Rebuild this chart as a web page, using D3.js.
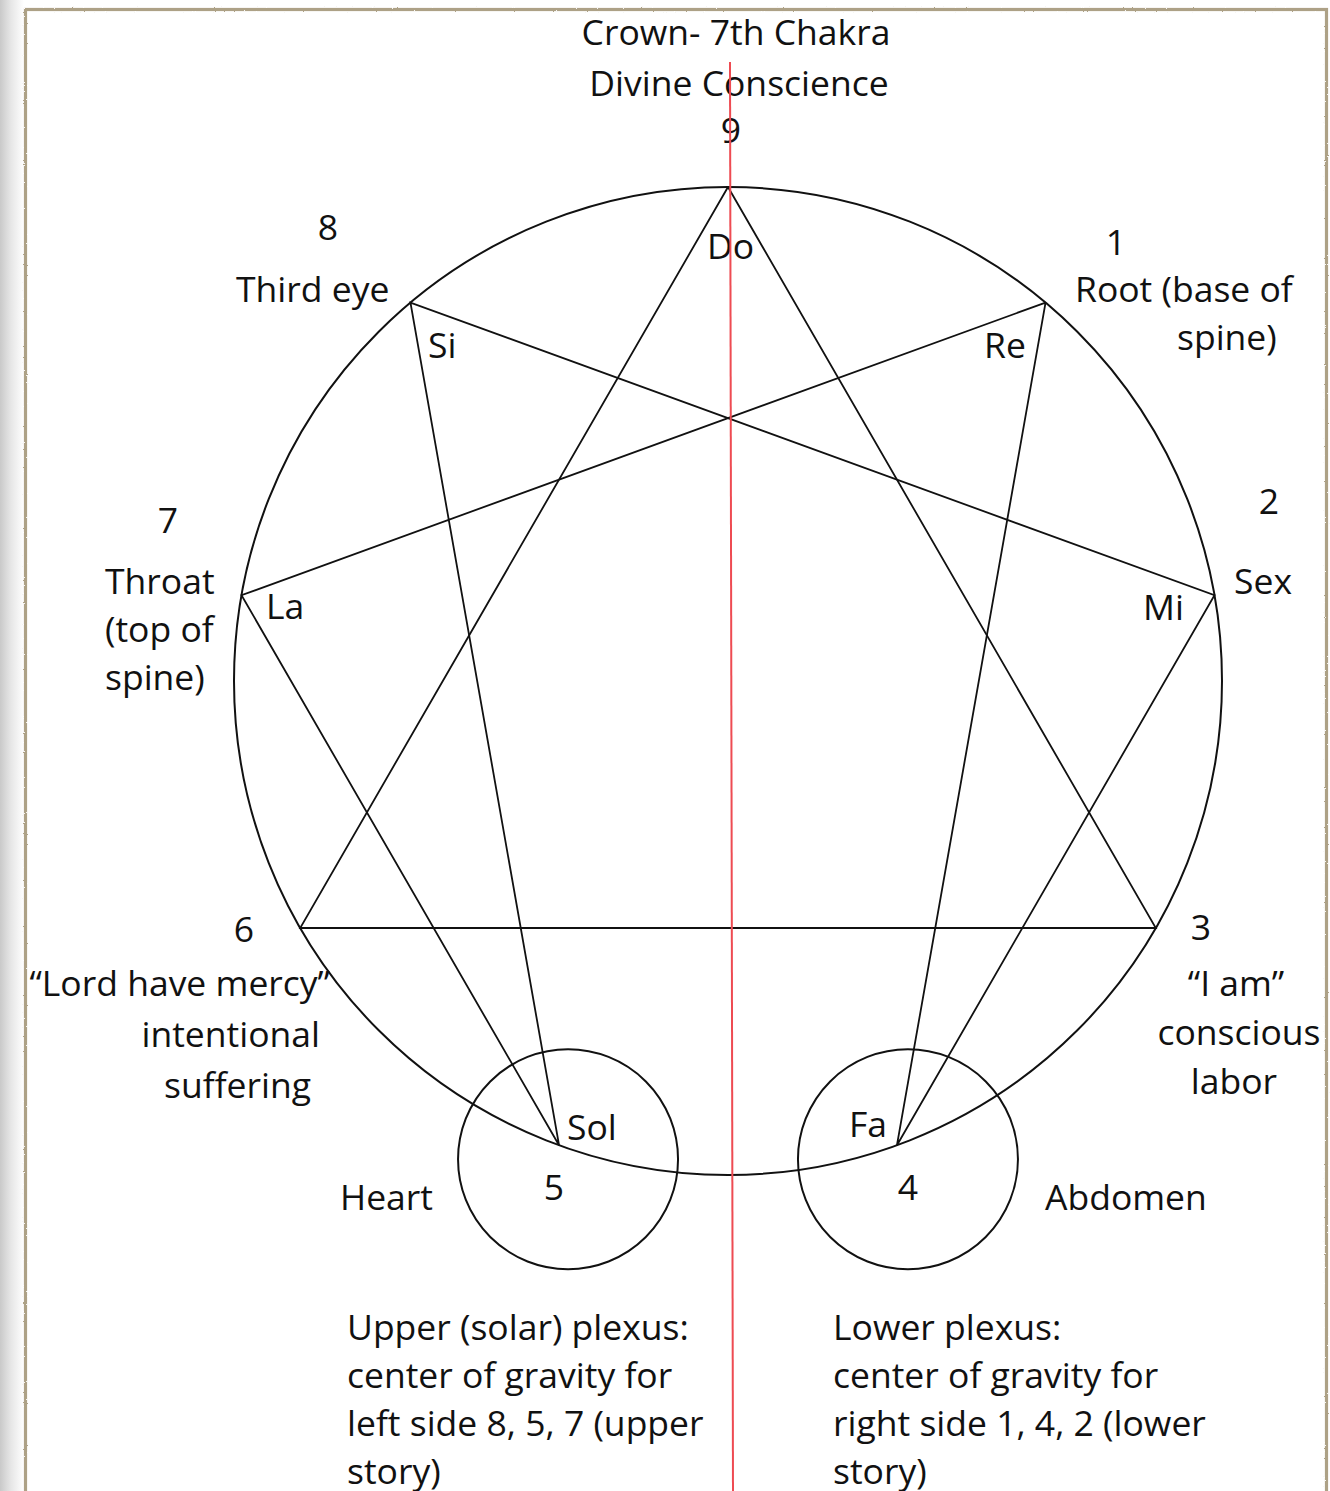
<!DOCTYPE html>
<html>
<head>
<meta charset="utf-8">
<script src="https://cdn.jsdelivr.net/npm/d3@7"></script>
<style>
  html, body { margin: 0; padding: 0; background: #fff; }
  svg text { font-family: "Open Sans", "Noto Sans", sans-serif; font-size: 35.5px; fill: #111; }
</style>
</head>
<body>
<div id="viz"></div>
<script>
// Datos del eneagrama
const pointIds = [1, 2, 3, 4, 5, 6, 7, 8, 9];
const solfege = ['Re', 'Mi', '', 'Fa', 'Sol', '', 'La', 'Si', 'Do'];
const chakraLines = [
    ['Root (base of', 'spine)'],
    ['Sex'],
    ['“I am”', 'conscious', 'labor'],
    ['Abdomen'],
    ['Heart'],
    ['“Lord have mercy”', 'intentional', 'suffering'],
    ['Throat', '(top of', 'spine)'],
    ['Third eye'],
    ['Crown- 7th Chakra', 'Divine Conscience']
];
const triangle = [9, 3, 6, 9];
const hexad = [1, 4, 2, 8, 5, 7, 1];
const plexusPoints = [5, 4];
const plexusNotes = [
    ['Upper (solar) plexus:', 'center of gravity for', 'left side 8, 5, 7 (upper', 'story)'],
    ['Lower plexus:', 'center of gravity for', 'right side 1, 4, 2 (lower', 'story)']
];

const W = 1330, H = 1491;
const cx = 728, cy = 681, R = 494;

let svg = d3.select('#viz')
    .append('svg')
    .attr('width', W)
    .attr('height', H);

let defs = svg.append('defs');
let grad = defs.append('linearGradient').attr('id', 'edge').attr('x1', 0).attr('x2', 1);
grad.append('stop').attr('offset', 0).attr('stop-color', '#c9c9c9');
grad.append('stop').attr('offset', 0.45).attr('stop-color', '#e6e6e6');
grad.append('stop').attr('offset', 1).attr('stop-color', '#ffffff');

let rough = defs.append('filter').attr('id', 'rough');
rough.append('feTurbulence').attr('type', 'fractalNoise').attr('baseFrequency', 0.9).attr('numOctaves', 2).attr('result', 'n');
rough.append('feDisplacementMap').attr('in', 'SourceGraphic').attr('in2', 'n').attr('scale', 2);

//Fondo y marco
svg.append('rect').attr('x', 0).attr('y', 0).attr('width', 24).attr('height', H).attr('fill', 'url(#edge)');
svg.append('rect')
    .attr('x', 25.5).attr('y', 9.5).attr('width', 1301).attr('height', H + 20)
    .attr('fill', 'none').attr('stroke', '#ada186').attr('stroke-width', 3.2)
    .attr('filter', 'url(#rough)');

//Escalas
let angle = d3.scaleLinear().domain([0, 9]).range([0, 2 * Math.PI]);
let px = function(id) { return cx + R * Math.sin(angle(id)); };
let py = function(id) { return cy - R * Math.cos(angle(id)); };

let g = svg.append('g');

g.append('circle')
    .attr('cx', cx).attr('cy', cy).attr('r', R)
    .attr('fill', 'none').attr('stroke', '#111').attr('stroke-width', 2);

//Plexos
let plexusOffset = { 5: [9, 14], 4: [11, 14] };
g.selectAll('.plexus')
    .data(plexusPoints)
    .enter()
    .append('circle')
    .attr('class', 'plexus')
    .attr('cx', function(d) { return px(d) + plexusOffset[d][0]; })
    .attr('cy', function(d) { return py(d) + plexusOffset[d][1]; })
    .attr('r', 110)
    .attr('fill', 'none').attr('stroke', '#111').attr('stroke-width', 2);

let line = d3.line()
    .x(function(d) { return px(d); })
    .y(function(d) { return py(d); });

g.selectAll('.figure')
    .data([triangle, hexad])
    .enter()
    .append('path')
    .attr('class', 'figure')
    .attr('d', line)
    .attr('fill', 'none')
    .attr('stroke', '#111')
    .attr('stroke-width', 1.8)
    .attr('stroke-linejoin', 'miter');

//Números
let numPos = {
    1: [1116, 255], 2: [1269, 514], 3: [1201, 940], 4: [908, 1200], 5: [554, 1200],
    6: [244, 942], 7: [168, 533], 8: [328, 240], 9: [731, 143]
};
g.selectAll('.num')
    .data(pointIds)
    .enter()
    .append('text')
    .attr('class', 'num')
    .attr('x', function(d) { return numPos[d][0]; })
    .attr('y', function(d) { return numPos[d][1]; })
    .attr('text-anchor', 'middle')
    .text(function(d) { return d; });

//Notas musicales
let notePos = {
    1: [984, 358], 2: [1143, 620], 4: [849, 1137], 5: [567, 1140],
    7: [266, 619], 8: [428, 358], 9: [707, 259]
};
g.selectAll('.note')
    .data(pointIds.filter(function(d) { return solfege[d - 1] !== ''; }))
    .enter()
    .append('text')
    .attr('class', 'note')
    .attr('x', function(d) { return notePos[d][0]; })
    .attr('y', function(d) { return notePos[d][1]; })
    .text(function(d) { return solfege[d - 1]; });

//Chakras: x por línea, baseline primera línea, interlineado, anchor
let chakraPos = {
    1: { xs: [1075, 1177], y: 302, dy: 48, anchor: 'start' },
    2: { xs: [1234], y: 594, dy: 48, anchor: 'start' },
    3: { xs: [1236, 1239, 1234], y: 996, dy: 49, anchor: 'middle' },
    4: { xs: [1045], y: 1210, dy: 48, anchor: 'start' },
    5: { xs: [340], y: 1210, dy: 48, anchor: 'start' },
    6: { xs: [330, 320, 311], y: 996, dy: 51, anchor: 'end' },
    7: { xs: [105, 105, 105], y: 594, dy: 48, anchor: 'start' },
    8: { xs: [236], y: 302, dy: 48, anchor: 'start' },
    9: { xs: [736, 739], y: 45, dy: 51, anchor: 'middle' }
};
pointIds.forEach(function(id) {
    let p = chakraPos[id];
    let t = g.append('text').attr('text-anchor', p.anchor);
    chakraLines[id - 1].forEach(function(l, i) {
        t.append('tspan').attr('x', p.xs[i]).attr('y', p.y + i * p.dy).text(l);
    });
});

//Notas de los plexos
let notesX = [347, 833];
plexusNotes.forEach(function(lines, k) {
    let t = g.append('text');
    lines.forEach(function(l, i) {
        t.append('tspan').attr('x', notesX[k]).attr('y', 1340 + i * 48).text(l);
    });
});

//Eje vertical rojo
svg.append('line')
    .attr('x1', 730).attr('y1', 62).attr('x2', 733).attr('y2', H)
    .attr('stroke', '#ee4b52').attr('stroke-width', 2);
</script>
</body>
</html>
